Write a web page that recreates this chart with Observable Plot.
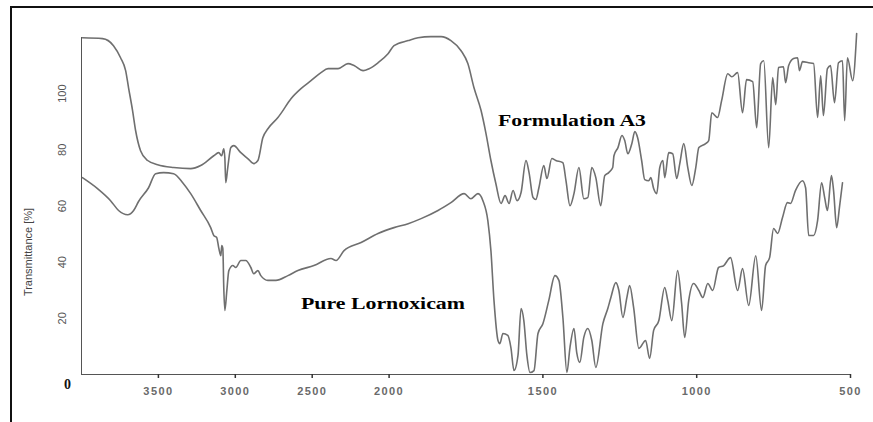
<!DOCTYPE html>
<html><head><meta charset="utf-8">
<script src="https://cdn.jsdelivr.net/npm/d3@7"></script>
<script src="https://cdn.jsdelivr.net/npm/@observablehq/plot@0.6"></script>
<style>
html,body{margin:0;padding:0;background:#fff;}
#wrap{position:relative;width:873px;height:422px;overflow:hidden;}
#chart{position:absolute;left:0;top:0;}
#border{position:absolute;left:10px;top:6px;right:0;bottom:0;border-top:2px solid #111;border-left:2px solid #111;pointer-events:none;}
</style></head><body>
<div id="wrap"><div id="chart"></div><div id="border"></div></div>
<script>
// Formulation A3 spectrum
const a3Wavenumber = [3994,3863,3792,3746,3713,3694,3668,3648,3616,3570,
3505,3401,3290,3225,3140,3108,3088,3075,3068,3062,
3049,3029,3010,2964,2919,2880,2853,2821,2788,2723,
2704,2638,2573,2508,2443,2397,2332,2267,2228,2169,
2130,2072,2007,1984,1938,1906,1864,1831,1799,1766,
1744,1724,1701,1685,1669,1653,1636,1623,1610,1597,
1584,1571,1555,1545,1532,1523,1513,1497,1487,1471,
1458,1435,1425,1412,1399,1383,1367,1354,1341,1328,
1312,1299,1286,1273,1269,1256,1243,1234,1224,1211,
1201,1192,1179,1169,1156,1149,1140,1130,1120,1110,
1104,1091,1078,1065,1055,1042,1029,1016,1003,993,
971,961,951,932,919,899,886,867,851,838,
818,805,792,782,766,753,743,734,718,711,
701,685,672,666,656,636,620,607,597,588,
575,565,552,539,526,519,510,493,480];
const a3Transmittance = [119.9,119.6,117.1,112.8,108.2,102.1,94.0,86.8,79.7,76.2,
74.7,73.7,73.3,74.4,77.9,79.0,77.9,80.4,77.2,68.3,
73.7,80.8,81.5,79.0,76.9,75.1,76.2,84.3,87.5,91.5,
92.9,98.2,101.8,104.6,107.5,108.9,108.9,110.7,110.0,108.2,
108.9,111.0,114.2,117.1,118.9,119.9,120.3,120.3,118.9,115.3,
110.7,102.1,94.0,85.8,76.2,68.0,60.9,63.7,60.9,65.5,
61.9,64.8,76.2,71.9,63.0,62.3,66.5,74.4,69.8,76.9,
76.2,75.4,69.0,60.1,64.4,73.7,62.6,63.0,73.7,70.1,
60.1,70.8,71.9,73.7,77.9,80.8,85.1,83.3,78.6,82.2,
86.5,84.3,76.2,69.4,69.0,70.1,66.2,64.4,73.7,76.2,
70.1,79.0,78.6,69.8,75.1,82.2,73.7,67.3,73.7,80.8,
82.2,83.3,93.2,91.5,97.5,107.1,106.0,107.5,93.2,105.0,
104.3,87.9,110.7,111.7,80.8,105.7,96.1,109.3,109.6,103.9,
110.0,112.5,112.8,108.2,111.4,111.0,110.7,91.5,106.4,92.2,
108.9,110.0,96.8,111.0,111.7,90.4,112.8,104.6,121.4];

// Pure Lornoxicam spectrum
const loxWavenumber = [3994,3896,3811,3759,3700,3661,3629,3564,3518,3466,
3401,3342,3290,3225,3160,3140,3121,3108,3094,3088,
3081,3075,3068,3055,3042,3016,2997,2964,2932,2899,
2880,2853,2834,2788,2736,2658,2593,2489,2378,2345,
2293,2182,2072,1984,1938,1896,1841,1799,1756,1734,
1711,1695,1679,1669,1659,1646,1640,1630,1614,1604,
1594,1581,1571,1562,1552,1542,1529,1516,1500,1481,
1461,1448,1435,1422,1412,1399,1390,1380,1367,1354,
1341,1328,1305,1289,1279,1263,1253,1240,1227,1218,
1205,1188,1166,1153,1140,1123,1104,1094,1081,1062,
1049,1039,1026,1010,993,980,964,948,929,912,
890,867,851,831,808,789,776,763,750,737,
721,705,695,679,656,646,636,620,607,594,
584,575,562,555,545,536,526];
const loxTransmittance = [70.1,66.2,61.9,58.4,56.9,58.4,61.6,66.5,71.5,71.9,
71.5,68.3,64.4,58.4,52.3,49.5,48.8,45.2,42.3,45.9,
44.8,31.0,22.8,29.9,37.0,38.8,38.1,40.6,40.6,38.1,
35.9,37.0,35.2,33.5,33.5,35.2,37.0,38.8,41.3,40.6,
44.1,47.0,50.2,52.3,53.7,55.5,58.4,61.2,64.4,62.6,
64.4,61.9,54.8,44.1,26.3,12.1,11.0,14.6,13.9,9.6,
1.4,6.8,23.5,19.2,6.8,0.7,1.4,14.6,18.1,26.3,
35.2,33.5,20.3,0.7,9.6,16.4,7.8,4.3,13.2,16.4,
12.1,2.5,18.1,23.5,27.4,32.7,29.9,20.3,27.4,31.7,
23.8,9.3,12.1,5.7,15.7,19.2,31.0,26.3,19.2,37.0,
25.3,13.2,26.3,32.4,29.9,27.4,32.4,29.9,38.1,38.8,
41.6,29.9,37.7,24.6,42.3,22.8,38.8,41.6,52.0,50.2,
55.9,61.2,60.9,65.5,69.0,66.5,49.5,49.5,54.8,68.3,
63.0,58.4,70.8,65.5,52.3,59.4,68.3];

const xTicks = [3500, 3000, 2500, 2000, 1500, 1000, 500];
const yTicks = [20, 40, 60, 80, 100];
const xExtent = [4000, 500];
const xBreak = 2000;          // FTIR axis: scale doubles below 2000 cm-1
const yDomain = [0, 120];
const seriesNames = ["Formulation A3", "Pure Lornoxicam"];
const labelWavenumber = [1646, 2573];
const labelTransmittance = [90.4, 25.3];

// piecewise wavenumber transform (expanded by 2x below the break) and its inverse
const warp = w => w >= xBreak ? xExtent[0] - w : (xExtent[0] - xBreak) + (xBreak - w) * 2;
const unwarp = u => u <= xExtent[0] - xBreak ? xExtent[0] - u : xBreak - (u - (xExtent[0] - xBreak)) / 2;

const a3 = a3Wavenumber.map((w, i) => ({w, t: a3Transmittance[i]}));
const lox = loxWavenumber.map((w, i) => ({w, t: loxTransmittance[i]}));
const labels = seriesNames.map((name, i) => ({name, w: labelWavenumber[i], t: labelTransmittance[i]}));

const serif = "'Liberation Serif','Times New Roman',serif";
const sans = "'Liberation Sans',Arial,sans-serif";

const chart = Plot.plot({
  width: 873, height: 422,
  marginLeft: 81, marginRight: 23, marginTop: 37, marginBottom: 48,
  style: {background: "transparent", fontFamily: sans, fontSize: "11px", color: "#555"},
  x: {transform: warp, domain: xExtent.map(warp), ticks: xTicks.map(warp), tickSize: 4, tickPadding: 9,
      tickFormat: u => String(Math.round(unwarp(u))), line: true, label: null},
  y: {domain: yDomain, ticks: yTicks, tickSize: 0, tickFormat: () => "", line: true, label: null},
  marks: [
    Plot.line(a3, {x: "w", y: "t", stroke: "#6f6f6f", strokeWidth: 1.6, curve: "monotone-x"}),
    Plot.line(lox, {x: "w", y: "t", stroke: "#6f6f6f", strokeWidth: 1.6, curve: "monotone-x"}),
    Plot.text(labels, {x: "w", y: "t", text: "name", textAnchor: "start", fontFamily: serif,
      fontWeight: "bold", fontSize: 16, fill: "#000"}),
    Plot.text(yTicks, {y: d => d, text: d => String(d), frameAnchor: "left", dx: -19, rotate: -90,
      textAnchor: "middle", lineAnchor: "middle", fontSize: 11, fill: "#555"}),
    Plot.text(["0"], {frameAnchor: "bottom-left", dx: -14, dy: 10, textAnchor: "middle", lineAnchor: "middle",
      fontFamily: serif, fontWeight: "bold", fontSize: 14, fill: "#111"}),
    Plot.text(["Transmittance [%]"], {frameAnchor: "left", dx: -53, dy: 46, rotate: -90,
      textAnchor: "middle", lineAnchor: "middle", fontSize: 11, fill: "#444"})
  ]
});
document.getElementById("chart").appendChild(chart);

// stretch the serif labels horizontally like the reference
const stretch = {"Formulation A3": 148, "Pure Lornoxicam": 164};
chart.querySelectorAll("text").forEach(t => {
  const s = t.textContent;
  if (stretch[s]) { t.setAttribute("textLength", stretch[s]); t.setAttribute("lengthAdjust", "spacingAndGlyphs"); }
});
d3.select(chart).selectAll('[aria-label="x-axis tick label"] text')
  .attr("font-weight", "bold").attr("fill", "#6a6a6a").style("letter-spacing", "1.4px");
d3.select(chart).selectAll('[aria-label="x-axis tick"], [aria-label="x-axis line"]').attr("stroke", "#333").attr("stroke-width", 1.5);
d3.select(chart).selectAll('[aria-label="y-axis line"]').attr("stroke", "#444").attr("stroke-width", 1.5);
</script>
</body></html>
